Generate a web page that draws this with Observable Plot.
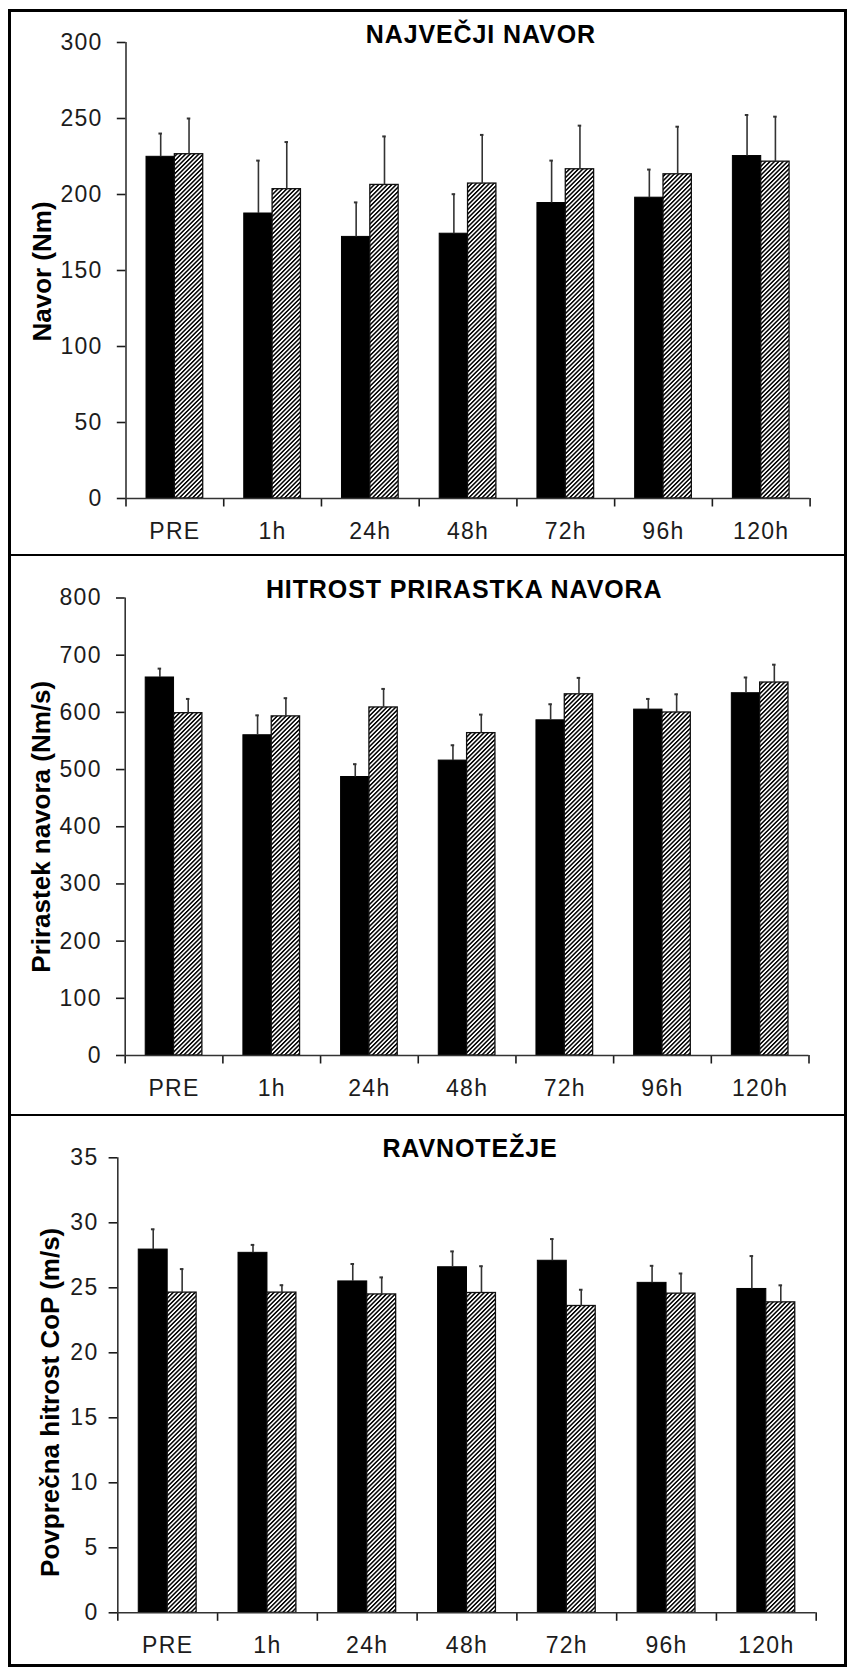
<!DOCTYPE html>
<html>
<head>
<meta charset="utf-8">
<script src="https://cdn.jsdelivr.net/npm/d3@7"></script>
<script src="https://cdn.jsdelivr.net/npm/@observablehq/plot@0.6"></script>
<style>
  html, body { margin: 0; padding: 0; background: #fff; }
  #frame { position: absolute; left: 8px; top: 9px; width: 833px; border: 3px solid #000; background: #fff; }
  .panel { position: relative; }
  .panel + .panel { border-top: 2px solid #000; }
  .panel svg { display: block; }
</style>
</head>
<body>
<div id="frame"></div>
<script>
// Measurement time points
const categories = ["PRE", "1h", "24h", "48h", "72h", "96h", "120h"];

// Največji navor (Nm): mean and SD for the two groups
const torqueA    = [224.8, 187.5, 172.1, 174.2, 194.4, 197.9, 225.3];
const torqueAErr = [15.3, 34.8, 22.7, 26.0, 27.9, 18.5, 27.0];
const torqueB    = [226.5, 203.5, 206.3, 207.2, 216.6, 213.3, 221.6];
const torqueBErr = [23.5, 31.0, 31.9, 32.0, 28.7, 31.3, 29.6];
const torqueTicks = [0, 50, 100, 150, 200, 250, 300];

// Hitrost prirastka navora (Nm/s)
const rtdA    = [661, 560, 487, 515.7, 586.1, 604.8, 633.5];
const rtdAErr = [15.5, 34.8, 22.4, 26.8, 28.1, 18.7, 27.5];
const rtdB    = [598.6, 593, 608.6, 563.7, 631.6, 599.8, 652.2];
const rtdBErr = [24.9, 31.8, 32.4, 32.4, 28.7, 31.8, 31.2];
const rtdTicks = [0, 100, 200, 300, 400, 500, 600, 700, 800];

// Ravnotežje: povprečna hitrost CoP (m/s)
const copA    = [27.94, 27.69, 25.49, 26.58, 27.08, 25.38, 24.91];
const copAErr = [1.56, 0.61, 1.34, 1.22, 1.67, 1.31, 2.53];
const copB    = [24.63, 24.63, 24.49, 24.60, 23.60, 24.55, 23.88];
const copBErr = [1.81, 0.57, 1.31, 2.06, 1.25, 1.55, 1.31];
const copTicks = [0, 5, 10, 15, 20, 25, 30, 35];

// Bar width as a fraction of one time-point slot, and error cap half-width
const BAR = 0.29;
const CAP = 0.018;

function rows(values, errs) {
  return categories.map((c, i) => ({category: c, index: i, value: values[i], err: errs[i]}));
}

function panel(cfg) {
  const groupA = rows(cfg.a, cfg.aErr);
  const groupB = rows(cfg.b, cfg.bErr);
  const centerA = d => d.index + 0.5 - BAR / 2;
  const centerB = d => d.index + 0.5 + BAR / 2;
  const bothGroups = [
    ...groupA.map(d => ({...d, cx: centerA(d)})),
    ...groupB.map(d => ({...d, cx: centerB(d)}))
  ];

  const node = Plot.plot({
    width: 833,
    height: cfg.height,
    marginTop: cfg.margin[0],
    marginRight: cfg.margin[1],
    marginBottom: cfg.margin[2],
    marginLeft: cfg.margin[3],
    style: {
      fontFamily: '"Liberation Sans", Arial, Helvetica, sans-serif',
      fontSize: "23px",
      color: "#1c1c1c",
      letterSpacing: "1.3px",
      background: "transparent",
      overflow: "visible"
    },
    x: {
      domain: [0, categories.length],
      ticks: d3.range(categories.length + 1),
      tickFormat: () => "",
      tickSize: 8.5,
      label: null
    },
    y: {
      domain: [0, cfg.ticks[cfg.ticks.length - 1]],
      ticks: cfg.ticks,
      tickSize: 8.7,
      tickPadding: cfg.tickPadding,
      label: null
    },
    marks: [
      Plot.rect(groupA, {
        x1: d => d.index + 0.5 - BAR, x2: d => d.index + 0.5,
        y1: 0, y2: "value",
        fill: "#000", stroke: "#000", strokeWidth: 1
      }),
      Plot.rect(groupB, {
        x1: d => d.index + 0.5, x2: d => d.index + 0.5 + BAR,
        y1: 0, y2: "value",
        fill: `url(#${cfg.id}-hatch)`, stroke: "#111", strokeWidth: 1.3
      }),
      Plot.ruleX(bothGroups, {
        x: "cx", y1: "value", y2: d => d.value + d.err,
        stroke: "#333", strokeWidth: 1.6
      }),
      Plot.ruleY(bothGroups, {
        y: d => d.value + d.err, x1: d => d.cx - CAP, x2: d => d.cx + CAP,
        stroke: "#333", strokeWidth: 2
      }),
      Plot.ruleX([0], {stroke: "#333", strokeWidth: 1.6}),
      Plot.ruleY([0], {stroke: "#333", strokeWidth: 1.6}),
      Plot.text(categories, {
        x: (d, i) => i + 0.5, text: d => d,
        frameAnchor: "bottom", lineAnchor: "top", dy: 24,
        fontSize: 23, fill: "#1c1c1c"
      }),
      Plot.text([cfg.title], {
        frameAnchor: "top", lineAnchor: "bottom", textAnchor: "middle",
        dx: cfg.titleOffset[0], dy: cfg.titleOffset[1],
        fontSize: 25, fontWeight: "bold", fill: "#000"
      }),
      Plot.text([cfg.yLabel], {
        frameAnchor: "left", rotate: -90, lineAnchor: "bottom", textAnchor: "middle",
        dx: cfg.labelOffset[0], dy: cfg.labelOffset[1],
        fontSize: 26, fontWeight: "bold", fill: "#000"
      })
    ]
  });

  const svg = node.tagName.toLowerCase() === "svg" ? node : node.querySelector("svg");

  // diagonal hatching used by the second group's bars
  const ns = "http://www.w3.org/2000/svg";
  const defs = document.createElementNS(ns, "defs");
  const pattern = document.createElementNS(ns, "pattern");
  pattern.setAttribute("id", `${cfg.id}-hatch`);
  pattern.setAttribute("patternUnits", "userSpaceOnUse");
  pattern.setAttribute("width", "3.1");
  pattern.setAttribute("height", "3.1");
  pattern.setAttribute("patternTransform", "rotate(45)");
  const bg = document.createElementNS(ns, "rect");
  bg.setAttribute("width", "3.1"); bg.setAttribute("height", "3.1"); bg.setAttribute("fill", "#fff");
  const stripe = document.createElementNS(ns, "rect");
  stripe.setAttribute("width", "1.5"); stripe.setAttribute("height", "3.1"); stripe.setAttribute("fill", "#000");
  pattern.append(bg, stripe);
  defs.append(pattern);
  svg.insertBefore(defs, svg.firstChild);

  // heavier axis ticks
  svg.querySelectorAll('g[aria-label*="axis"] path, g[aria-label*="axis"] line').forEach(el => {
    el.setAttribute("stroke-width", "1.6");
  });
  // panel titles and axis titles get their own spacing
  svg.querySelectorAll("text").forEach(t => {
    if (t.textContent === cfg.title) t.style.letterSpacing = "0.9px";
    if (t.textContent === cfg.yLabel) t.style.letterSpacing = "0px";
  });

  const div = document.createElement("div");
  div.className = "panel";
  div.style.height = cfg.height + "px";
  div.append(node);
  document.getElementById("frame").append(div);
}

panel({
  id: "navor", title: "NAJVEČJI NAVOR", yLabel: "Navor (Nm)",
  a: torqueA, aErr: torqueAErr, b: torqueB, bErr: torqueBErr, ticks: torqueTicks,
  height: 542, margin: [30, 34.4, 56, 114.5], tickPadding: 14.6,
  titleOffset: [12.8, 0], labelOffset: [-75.5, 1]
});
panel({
  id: "rtd", title: "HITROST PRIRASTKA NAVORA", yLabel: "Prirastek navora (Nm/s)",
  a: rtdA, aErr: rtdAErr, b: rtdB, bErr: rtdBErr, ticks: rtdTicks,
  height: 558, margin: [41.5, 35.5, 59, 113.7], tickPadding: 14.7,
  titleOffset: [-2.9, 0], labelOffset: [-75.7, 0]
});
panel({
  id: "cop", title: "RAVNOTEŽJE", yLabel: "Povprečna hitrost CoP (m/s)",
  a: copA, aErr: copAErr, b: copB, bErr: copBErr, ticks: copTicks,
  height: 548, margin: [41.3, 28.3, 51.7, 106.3], tickPadding: 10.6,
  titleOffset: [3, -1], labelOffset: [-58.8, 17]
});
</script>
</body>
</html>
